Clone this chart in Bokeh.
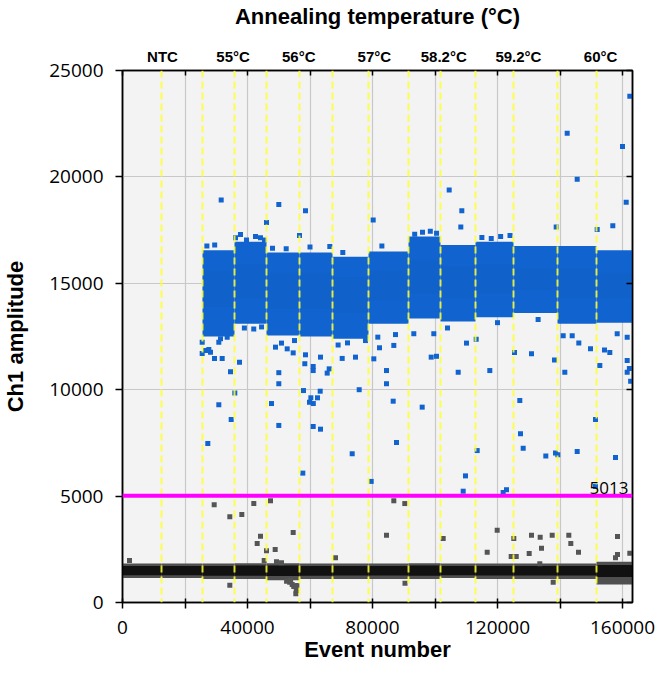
from bokeh.plotting import figure
from bokeh.models import LinearAxis, FixedTicker, Span, Label, ColumnDataSource, Range1d
from bokeh.embed import file_html
from bokeh.resources import INLINE

# ---------------- data ----------------
well_start = [0, 12480, 25600, 35840, 46080, 56640, 67200, 78720, 91520,
              101760, 112960, 125120, 139200, 151680]
last_event = 163200
amp_max = 25000
condition_labels = ["NTC", "55°C", "56°C", "57°C", "58.2°C", "59.2°C", "60°C"]
condition_pos = [12800, 35400, 56400, 80600, 102800, 126700, 153000]
threshold = 5013

x_ticks = [0, 20000, 40000, 60000, 80000, 100000, 120000, 140000, 160000]
x_tick_labels = ["0", "", "40000", "", "80000", "", "120000", "", "160000"]
y_ticks = [0, 5000, 10000, 15000, 20000, 25000]

# positive (blue) droplet cloud per well, wells 3..14
pos_well_idx = [2, 3, 4, 5, 6, 7, 8, 9, 10, 11, 12, 13]
pos_hi = [16550, 16950, 16450, 16450, 16250, 16500, 17200, 16800, 16950, 16750, 16750, 16550]
pos_lo = [12500, 13100, 12550, 12500, 12400, 13100, 13350, 13200, 13400, 13600, 13100, 13150]
pos_core_hi = [15600, 15900, 15500, 15500, 15300, 15600, 16100, 15800, 15900, 15700, 15700, 15500]
pos_core_lo = [13900, 14300, 13800, 13800, 13600, 14200, 14500, 14300, 14500, 14700, 14300, 14300]

# negative (black) droplet band per well, all 14 wells
neg_out_lo = [1150, 1150, 1100, 1100, 1050, 1100, 1100, 1100, 1100, 1150, 1100, 1100, 1100, 850]
neg_out_hi = [1830, 1830, 1830, 1850, 1850, 1830, 1830, 1830, 1850, 1830, 1830, 1830, 1830, 1920]
neg_core_lo = [1280, 1280, 1260, 1260, 1250, 1260, 1270, 1270, 1260, 1280, 1270, 1270, 1270, 1200]
neg_core_hi = [1720, 1720, 1720, 1740, 1740, 1720, 1720, 1720, 1740, 1720, 1720, 1720, 1720, 1760]

# scattered positive droplets
pos_pt_x = [31580, 50020, 58560, 46080, 80220, 56640, 66340, 52380, 37760,
            162340, 142300, 160000, 145500, 104540, 108580, 108260, 161180, 156900, 138780, 151900,
            36160, 39680, 42560, 44160, 45440, 93500, 96000, 98500, 100500,
            115000, 118000, 121000, 124000, 27000, 29500, 48000, 60000, 70500, 83000,
            25500, 26560, 27630, 28160, 25500, 29440, 31900, 34560, 30820, 31360, 33500,
            30820, 27300, 34780, 35940, 37440, 39000, 42000, 44500,
            50020, 50020, 48960, 50880, 52700, 54620, 55040, 47680, 50020,
            58560, 58340, 61020, 61020, 63360, 65500, 66140, 57920, 60270, 62400, 63260,
            59840, 61060, 61020, 63360, 57700,
            70300, 74560, 77760, 75740, 73500, 69000, 72000,
            79580, 80420, 81700, 82240, 84480, 84480, 87360, 87680, 86620, 86820,
            93220, 99620, 98780, 100480, 95900, 107420, 110080, 109760, 109020, 104000,
            113180, 117540, 113500, 121810, 122880, 125440, 130880, 127360, 128220, 127140,
            135460, 138560, 139300, 138240, 120000, 133000,
            141020, 141540, 143900, 146020, 149760, 152740, 154240, 155940, 158300,
            161500, 161500, 161500, 145500, 151360, 151360, 157760, 162600, 162200]
pos_pt_y = [18920, 18700, 18410, 17860, 17970, 17250, 16730, 16620, 17290,
            23790, 22050, 21430, 19890, 19380, 18410, 17640, 18810, 17700, 17640, 17530,
            17140, 17040, 17200, 17140, 17040, 17300, 17400, 17450, 17350,
            17150, 17100, 17200, 17250, 16750, 16800, 16650, 16700, 16450, 16750,
            12230, 11840, 11890, 11760, 11700, 11470, 11470, 10840, 12230, 12390, 12470,
            9290, 7470, 8600, 9850, 11290, 12900, 12850, 12950,
            10800, 10280, 12000, 12190, 11920, 11730, 12310, 9350, 8320,
            11640, 11220, 11090, 10900, 11530, 10780, 10980, 9960, 9620, 9620, 9930,
            9410, 9350, 8270, 8145, 6080,
            11470, 11530, 12310, 10000, 6990, 12100, 12200,
            5690, 11450, 12470, 11970, 10900, 10280, 12590, 7520, 9460, 12080,
            12630, 12630, 11530, 11570, 9180, 10820, 12190, 5950, 5230, 12900,
            12370, 10900, 7140, 5170, 5300, 11750, 11690, 7930, 7250, 9490,
            6880, 7030, 6940, 11400, 13150, 13300,
            12530, 10820, 12530, 12190, 11920, 11140, 11870, 11750, 12630,
            12470, 11370, 10820, 7100, 8600, 5450, 6810, 10400, 11000]

# scattered negative droplets
neg_pt_x = [2240, 29340, 34340, 38180, 42020, 47360, 44160, 43100, 46080, 48860, 45340,
            49280, 50880, 54620, 68160, 34340, 55460, 55600, 86820, 84480, 90340,
            102620, 119900, 116700, 125220, 124380, 126000, 130880, 133660, 134080,
            130140, 137500, 142820, 143460, 145920, 158400, 158400, 157760, 162340,
            133540, 137820, 52500, 53500, 54300, 54800, 55800, 53800, 90400]
neg_pt_y = [1974, 4590, 4027, 4135, 4650, 4780, 3116, 2772, 2430, 2490, 1974,
            1912, 1865, 3290, 2100, 813, 408, 560, 4780, 3163, 4650,
            3008, 3398, 2364, 3008, 2162, 2162, 3163, 3070, 2552,
            2303, 3163, 3163, 2772, 2364, 3100, 2255, 2100, 2317,
            1818, 955, 1000, 950, 850, 750, 800, 1050, 900]

# ---------------- styles ----------------
BLUE = "#1164cf"
BLUE_CORE = "#0c56b5"
GRAY = "#4f4f4f"
BLACK = "#111111"
TICK_FONT = "Open Sans"
LABEL_FONT = "Liberation Sans"

well_end = well_start[1:] + [last_event]

p = figure(frame_width=510, frame_height=532,
           x_range=Range1d(0, last_event), y_range=Range1d(0, amp_max),
           output_backend="svg", toolbar_location=None,
           min_border_left=114, min_border_right=24, min_border_top=60, min_border_bottom=62,
           background_fill_color="#f3f3f3", border_fill_color="white",
           outline_line_color="black", outline_line_width=1.5)

# grids
p.xgrid.ticker = FixedTicker(ticks=x_ticks)
p.ygrid.ticker = FixedTicker(ticks=y_ticks)
for g in (p.xgrid[0], p.ygrid[0]):
    g.grid_line_color = "#c8c8c8"
    g.grid_line_width = 1.2

# bottom axis
xa = p.xaxis[0]
xa.ticker = FixedTicker(ticks=x_ticks)
xa.major_label_overrides = {t: l for t, l in zip(x_ticks, x_tick_labels)}
xa.axis_label = "Event number"
xa.major_tick_in = 4
xa.major_tick_out = 6
xa.major_label_standoff = 12
xa.axis_label_standoff = 0

# left axis
ya = p.yaxis[0]
ya.ticker = FixedTicker(ticks=y_ticks)
ya.axis_label = "Ch1 amplitude"
ya.major_tick_in = 0
ya.major_tick_out = 7
ya.major_label_standoff = 12
ya.axis_label_standoff = 18

for ax in (xa, ya):
    ax.major_label_text_font = TICK_FONT
    ax.major_label_text_font_size = "19px"
    ax.major_label_text_color = "black"
    ax.axis_label_text_font = LABEL_FONT
    ax.axis_label_text_font_style = "bold"
    ax.axis_label_text_font_size = "22px"
    ax.axis_label_text_color = "black"
    ax.axis_line_width = 1.5
    ax.major_tick_line_width = 1.5
    ax.minor_tick_line_color = None

# top axis with condition labels
top = LinearAxis(ticker=FixedTicker(ticks=condition_pos, minor_ticks=x_ticks),
                 major_label_overrides={t: l for t, l in zip(condition_pos, condition_labels)},
                 axis_label="Annealing temperature (°C)")
top.major_tick_line_color = None
top.minor_tick_in = 5
top.minor_tick_out = 0
top.minor_tick_line_width = 1.5
top.axis_line_width = 1.5
top.major_label_standoff = 0
top.axis_label_standoff = 16
top.major_label_text_font = LABEL_FONT
top.major_label_text_font_style = "bold"
top.major_label_text_font_size = "15px"
top.major_label_text_color = "black"
top.axis_label_text_font = LABEL_FONT
top.axis_label_text_font_style = "bold"
top.axis_label_text_font_size = "22px"
top.axis_label_text_color = "black"
p.add_layout(top, "above")

# right axis (ticks only)
right = LinearAxis(ticker=FixedTicker(ticks=y_ticks),
                   major_label_overrides={t: "" for t in y_ticks})
right.major_tick_in = 6
right.major_tick_out = 0
right.major_tick_line_width = 1.5
right.axis_line_width = 1.5
right.minor_tick_line_color = None
right.major_label_standoff = 0
right.major_label_text_font_size = "1px"
p.add_layout(right, "right")

# negative band
neg_src = ColumnDataSource(dict(left=well_start, right=well_end,
                                out_lo=neg_out_lo, out_hi=neg_out_hi,
                                core_lo=neg_core_lo, core_hi=neg_core_hi))
p.quad(left="left", right="right", bottom="out_lo", top="out_hi", source=neg_src,
       fill_color=GRAY, line_color=None)
p.quad(left="left", right="right", bottom="core_lo", top="core_hi", source=neg_src,
       fill_color=BLACK, line_color=None)

# positive cloud
pos_src = ColumnDataSource(dict(left=[well_start[i] for i in pos_well_idx],
                                right=[well_end[i] for i in pos_well_idx],
                                lo=pos_lo, hi=pos_hi,
                                clo=pos_core_lo, chi=pos_core_hi))
p.quad(left="left", right="right", bottom="lo", top="hi", source=pos_src,
       fill_color=BLUE, line_color=None)
p.quad(left="left", right="right", bottom="clo", top="chi", source=pos_src,
       fill_color=BLUE_CORE, fill_alpha=0.22, line_color=None)

# scattered droplets
p.scatter(neg_pt_x, neg_pt_y, marker="square", size=5, fill_color="#555555", line_color=None)
p.scatter(pos_pt_x, pos_pt_y, marker="square", size=5, fill_color=BLUE, line_color=None)

# well boundaries
for b in well_start[1:]:
    p.add_layout(Span(location=b, dimension="height", line_color="#ffff33",
                      line_dash="7 4", line_width=2, line_alpha=0.85))

# threshold
p.add_layout(Span(location=threshold, dimension="width", line_color="#ff00ff", line_width=4))
p.add_layout(Label(x=last_event, y=threshold, text=str(threshold), text_align="right",
                   text_baseline="bottom", x_offset=-4, y_offset=2,
                   text_font=TICK_FONT, text_font_size="17px", text_color="black"))

open("out.html", "w").write(file_html(p, INLINE))
